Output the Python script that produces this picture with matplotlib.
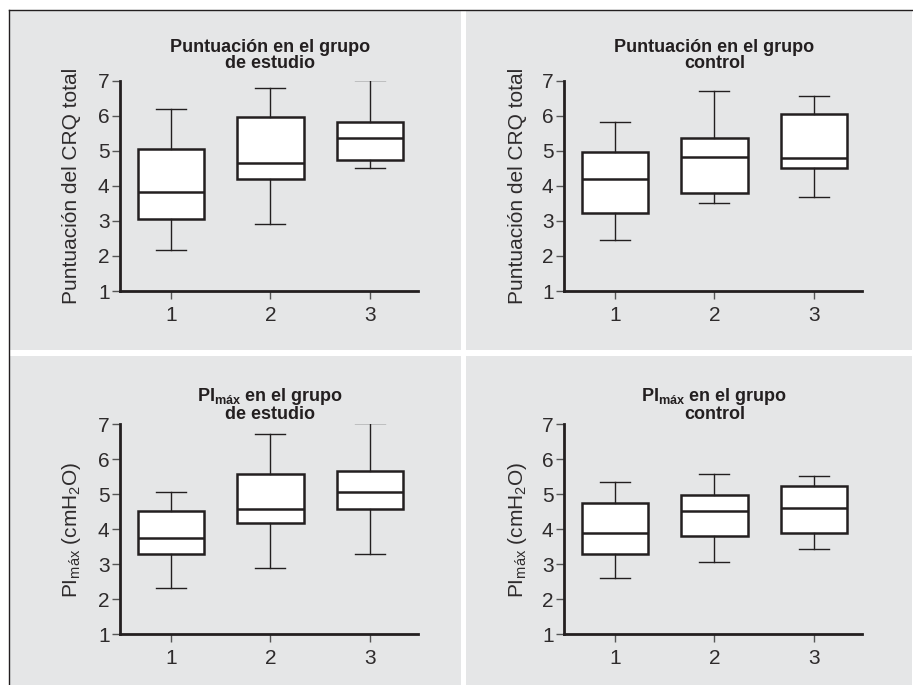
import matplotlib
matplotlib.use("Agg")
import matplotlib.pyplot as plt
from matplotlib.patches import Rectangle
from matplotlib.lines import Line2D

plt.rcParams["font.family"] = ["Liberation Sans", "DejaVu Sans"]
plt.rcParams["mathtext.fontset"] = "custom"
plt.rcParams["mathtext.rm"] = "Liberation Sans"
plt.rcParams["mathtext.bf"] = "Liberation Sans:bold"
plt.rcParams["mathtext.it"] = "Liberation Sans:italic"

INK = "#231f20"
TEXT = "#2e2b2c"
TICK = "#555555"
PANEL = "#e5e6e7"

groups = [1, 2, 3]
yticks = [1, 2, 3, 4, 5, 6, 7]

# per group: whisker low, Q1, median, Q3, whisker high
crq_estudio = [[2.16, 3.05, 3.82, 5.05, 6.20],
               [2.91, 4.19, 4.64, 5.96, 6.78],
               [4.52, 4.73, 5.36, 5.81, 7.02]]
crq_control = [[2.46, 3.22, 4.19, 4.97, 5.81],
               [3.52, 3.80, 4.83, 5.36, 6.71],
               [3.67, 4.50, 4.80, 6.04, 6.57]]
pimax_estudio = [[2.31, 3.29, 3.75, 4.52, 5.06],
                 [2.90, 4.19, 4.57, 5.57, 6.71],
                 [3.30, 4.57, 5.06, 5.67, 7.04]]
pimax_control = [[2.62, 3.29, 3.90, 4.76, 5.36],
                 [3.07, 3.80, 4.51, 4.98, 5.58],
                 [3.45, 3.90, 4.60, 5.23, 5.52]]

titles = ["Puntuación en el grupo\nde estudio",
          "Puntuación en el grupo\ncontrol",
          "PI$_{\\mathbf{máx}}$ en el grupo\nde estudio",
          "PI$_{\\mathbf{máx}}$ en el grupo\ncontrol"]
ylabels = ["Puntuación del CRQ total",
           "Puntuación del CRQ total",
           "PI$_{\\mathrm{máx}}$ (cmH$_{\\mathrm{2}}$O)",
           "PI$_{\\mathrm{máx}}$ (cmH$_{\\mathrm{2}}$O)"]
panel_data = [crq_estudio, crq_control, pimax_estudio, pimax_control]

W, H = 913, 685
fig = plt.figure(figsize=(W / 100, H / 100), dpi=100, facecolor="white")

# grey panel backgrounds (pixel boxes: x0, y0 top, x1, y1 bottom)
for x0, y0, x1, y1 in [(10, 11, 461, 350), (466, 11, 912, 350),
                       (10, 356, 461, 685), (466, 356, 912, 685)]:
    fig.add_artist(Rectangle((x0 / W, 1 - y1 / H), (x1 - x0) / W, (y1 - y0) / H,
                             transform=fig.transFigure, facecolor=PANEL,
                             edgecolor="none", zorder=0))
fig.add_artist(Line2D([9 / W, 1], [1 - 10 / H, 1 - 10 / H], transform=fig.transFigure,
                      color=INK, lw=1.0, zorder=1))
fig.add_artist(Line2D([9 / W, 9 / W], [0, 1 - 10 / H], transform=fig.transFigure,
                      color=INK, lw=1.0, zorder=1))

# axes rectangles in pixels: left, bottom-y, right, top-y
boxes_px = [(120, 291, 417.7, 80.7), (564, 291, 861.7, 80.7),
            (120, 634.3, 417.7, 424.3), (564, 634.3, 861.7, 424.3)]
title_off = [1.059, 1.059, 1.025, 1.025]
label_x = [-0.143, -0.138, -0.143, -0.138]

for i, (l, b, r, t) in enumerate(boxes_px):
    ax = fig.add_axes([l / W, 1 - b / H, (r - l) / W, (b - t) / H])
    ax.patch.set_visible(False)
    stats = []
    for g, (lo, q1, med, q3, hi) in zip(groups, panel_data[i]):
        stats.append(dict(whislo=lo, q1=q1, med=med, q3=q3, whishi=hi, label=str(g)))
    ax.bxp(stats, positions=groups, widths=0.667, capwidths=0.3, showfliers=False,
           patch_artist=True,
           boxprops=dict(facecolor="white", edgecolor=INK, linewidth=1.8),
           medianprops=dict(color=INK, linewidth=1.8),
           whiskerprops=dict(color=INK, linewidth=1.0),
           capprops=dict(color=INK, linewidth=1.0))
    ax.set_xlim(0.49, 3.48)
    ax.set_ylim(1, 7)
    ax.set_xticks(groups)
    ax.set_xticklabels([str(g) for g in groups])
    ax.set_yticks(yticks)
    for side in ["top", "right"]:
        ax.spines[side].set_visible(False)
    for side in ["left", "bottom"]:
        ax.spines[side].set_linewidth(2.0)
        ax.spines[side].set_color(INK)
    ax.tick_params(axis="both", length=6, width=1.0, color=TICK, labelcolor=TEXT,
                   labelsize=15)
    ax.tick_params(axis="y", pad=1.5)
    ax.tick_params(axis="x", pad=4.5)
    ax.set_ylabel(ylabels[i], fontsize=15, color=TEXT)
    ax.yaxis.label.set_verticalalignment("baseline")
    ax.yaxis.set_label_coords(label_x[i], 0.5)
    ax.text(2, title_off[i], titles[i], transform=ax.get_xaxis_transform(),
            ha="center", va="baseline", fontsize=13, fontweight="bold",
            color=INK, linespacing=0.95)

fig.savefig("out.png", dpi=100, facecolor="white")
